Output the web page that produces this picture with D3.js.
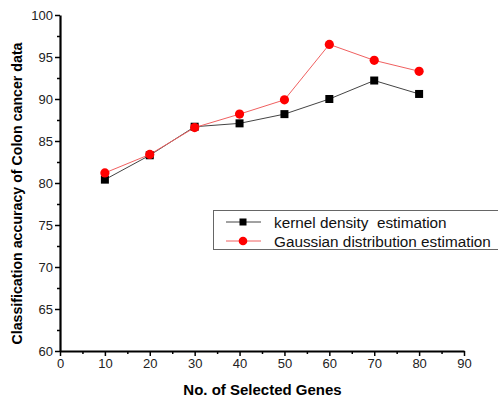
<!DOCTYPE html>
<html><head><meta charset="utf-8">
<script src="https://cdn.jsdelivr.net/npm/d3@7"></script>
<style>body{margin:0;background:#fff}svg{display:block}</style>
</head><body>
<svg id="c" width="498" height="397"></svg>
<script>
const genes = [10, 20, 30, 40, 50, 60, 70, 80];
const kernelAcc = [80.4, 83.3, 86.7, 87.1, 88.2, 90.0, 92.2, 90.6];
const gaussAcc = [81.2, 83.4, 86.6, 88.2, 89.9, 96.5, 94.6, 93.3];
const xTicks = [0, 10, 20, 30, 40, 50, 60, 70, 80, 90];
const yTicks = [60, 65, 70, 75, 80, 85, 90, 95, 100];
const seriesNames = ["kernel density  estimation", "Gaussian distribution estimation"];

const svg = d3.select("#c");
const x = d3.scaleLinear().domain([0, 90]).range([60, 464]);
const y = d3.scaleLinear().domain([60, 100]).range([351, 15]);
const font = "'Liberation Sans', Arial, sans-serif";

// minor ticks
const xMinor = d3.range(5, 90, 10);
const yMinor = d3.range(62.5, 100, 5);
svg.append("g").attr("transform", "translate(0,351)")
  .call(d3.axisBottom(x).tickValues(xMinor).tickSize(3).tickFormat(""))
  .call(g => g.select(".domain").remove())
  .selectAll("line").attr("stroke", "#000").attr("stroke-width", 1.5);
svg.append("g").attr("transform", "translate(60,0)")
  .call(d3.axisLeft(y).tickValues(yMinor).tickSize(3).tickFormat(""))
  .call(g => g.select(".domain").remove())
  .selectAll("line").attr("stroke", "#000").attr("stroke-width", 1.5);

const xa = svg.append("g").attr("transform", "translate(0,351)")
  .call(d3.axisBottom(x).tickValues(xTicks).tickSize(5).tickSizeOuter(0).tickPadding(3));
const ya = svg.append("g").attr("transform", "translate(60,0)")
  .call(d3.axisLeft(y).tickValues(yTicks).tickSize(5).tickSizeOuter(0).tickPadding(2));
[xa, ya].forEach(a => {
  a.select(".domain").attr("stroke", "#000").attr("stroke-width", 2.2);
  a.selectAll(".tick line").attr("stroke", "#000").attr("stroke-width", 1.5);
  a.selectAll(".tick text").attr("fill", "#222").style("font-family", font).style("font-size", "13px");
});

// lines
const data1 = genes.map((g, i) => [g, kernelAcc[i]]);
const data2 = genes.map((g, i) => [g, gaussAcc[i]]);
const line = d3.line().x(d => x(d[0])).y(d => y(d[1]));
svg.append("path").datum(data1).attr("d", line).attr("fill", "none").attr("stroke", "#444").attr("stroke-width", 1);
svg.append("path").datum(data2).attr("d", line).attr("fill", "none").attr("stroke", "#f06060").attr("stroke-width", 1);
svg.selectAll(".sq").data(data1).enter().append("rect")
  .attr("x", d => x(d[0]) - 4).attr("y", d => y(d[1]) - 4).attr("width", 8).attr("height", 8).attr("fill", "#000");
svg.selectAll(".ci").data(data2).enter().append("circle")
  .attr("cx", d => x(d[0])).attr("cy", d => y(d[1])).attr("r", 4.6).attr("fill", "#ff0000");

// legend
const lg = svg.append("g");
lg.append("rect").attr("x", 213.5).attr("y", 210.5).attr("width", 300).attr("height", 39)
  .attr("fill", "#fff").attr("stroke", "#666").attr("stroke-width", 1);
const rows = [222, 241];
lg.append("line").attr("x1", 226).attr("x2", 261).attr("y1", rows[0]).attr("y2", rows[0]).attr("stroke", "#444");
lg.append("rect").attr("x", 239.5).attr("y", rows[0] - 3.5).attr("width", 7).attr("height", 7).attr("fill", "#000");
lg.append("line").attr("x1", 226).attr("x2", 261).attr("y1", rows[1]).attr("y2", rows[1]).attr("stroke", "#f06060");
lg.append("circle").attr("cx", 243).attr("cy", rows[1]).attr("r", 4.3).attr("fill", "#ff0000");
seriesNames.forEach((n, i) => {
  lg.append("text").attr("x", 274).attr("y", rows[i] + 5.5).text(n)
    .attr("fill", "#111").style("font-family", font).style("font-size", "15.3px").attr("xml:space", "preserve").style("white-space", "pre");
});

// axis titles
svg.append("text").attr("x", 262.5).attr("y", 395).attr("text-anchor", "middle")
  .style("font-family", font).style("font-size", "15px").style("font-weight", "bold").text("No. of Selected Genes");
svg.append("text").attr("transform", "translate(22,193.5) rotate(-90)").attr("text-anchor", "middle")
  .style("font-family", font).style("font-size", "14.2px").style("font-weight", "bold").text("Classification accuracy of Colon cancer data");
</script>
</body></html>
